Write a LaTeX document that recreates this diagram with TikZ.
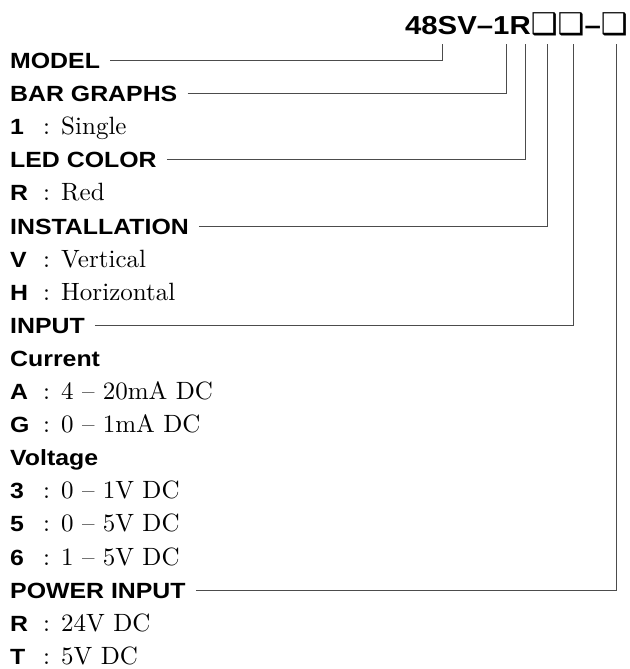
\documentclass[tikz,border=0pt]{standalone}
\usepackage{fontspec}
\setsansfont{Liberation Sans}[FakeStretch=1.13]
\newfontfamily\descfont{lmroman10-regular.otf}
\newfontfamily\boxfont{DejaVu Sans}
\begin{document}
\begin{tikzpicture}[x=1pt,y=-1pt,
  lbl/.style={anchor=west,inner sep=0pt,text height=16pt,text depth=0pt,
    font=\fontsize{22}{22}\selectfont\sffamily\bfseries},
  desc/.style={anchor=west,inner sep=0pt,text height=16pt,text depth=0pt,
    font=\fontsize{25}{25}\selectfont},
  conn/.style={draw=black!70,line width=1pt}]
\useasboundingbox (0,0) rectangle (629,669);
\newcommand{\opt}[2]{\makebox[33pt][l]{\sffamily\bfseries\fontsize{22}{22}\selectfont #1}{\descfont : #2}}
% title
\node[anchor=base east,inner sep=0pt,font=\fontsize{26}{26}\selectfont\sffamily\bfseries]
  (title) at (628,35) {48SV–1R{\boxfont\fontsize{30}{30}\selectfont ❑❑}–{\boxfont\fontsize{30}{30}\selectfont ❑}};
% top coordinates of connectors
\coordinate (tModel) at (442.7,44);
\coordinate (tBar) at (506.7,44);
\coordinate (tLed) at (525.7,44);
\coordinate (tInst) at (547.3,44);
\coordinate (tIn) at (573.3,44);
\coordinate (tPow) at (616,44);
% rows
\node[lbl] (model) at (10,60.5) {MODEL};
\node[lbl] (bar) at (10,93.6) {BAR GRAPHS};
\node[desc] (o1) at (10,126.7) {\opt{1}{Single}};
\node[lbl] (led) at (10,159.8) {LED COLOR};
\node[desc] (oR) at (10,192.9) {\opt{R}{Red}};
\node[lbl] (inst) at (10,226.0) {INSTALLATION};
\node[desc] (oV) at (10,259.1) {\opt{V}{Vertical}};
\node[desc] (oH) at (10,292.2) {\opt{H}{Horizontal}};
\node[lbl] (inp) at (10,325.3) {INPUT};
\node[lbl] (cur) at (10,358.4) {Current};
\node[desc] (oA) at (10,391.5) {\opt{A}{4 – 20mA DC}};
\node[desc] (oG) at (10,424.6) {\opt{G}{0 – 1mA DC}};
\node[lbl] (volt) at (10,457.7) {Voltage};
\node[desc] (o3) at (10,490.8) {\opt{3}{0 – 1V DC}};
\node[desc] (o5) at (10,523.9) {\opt{5}{0 – 5V DC}};
\node[desc] (o6) at (10,557.0) {\opt{6}{1 – 5V DC}};
\node[lbl] (pow) at (10,590.1) {POWER INPUT};
\node[desc] (oPR) at (10,623.2) {\opt{R}{24V DC}};
\node[desc] (oT) at (10,656.3) {\opt{T}{5V DC}};
% connectors
\draw[conn] ([xshift=10pt]model.east) -| (tModel);
\draw[conn] ([xshift=10pt]bar.east) -| (tBar);
\draw[conn] ([xshift=10pt]led.east) -| (tLed);
\draw[conn] ([xshift=10pt]inst.east) -| (tInst);
\draw[conn] ([xshift=10pt]inp.east) -| (tIn);
\draw[conn] ([xshift=10pt]pow.east) -| (tPow);
\end{tikzpicture}
\end{document}
